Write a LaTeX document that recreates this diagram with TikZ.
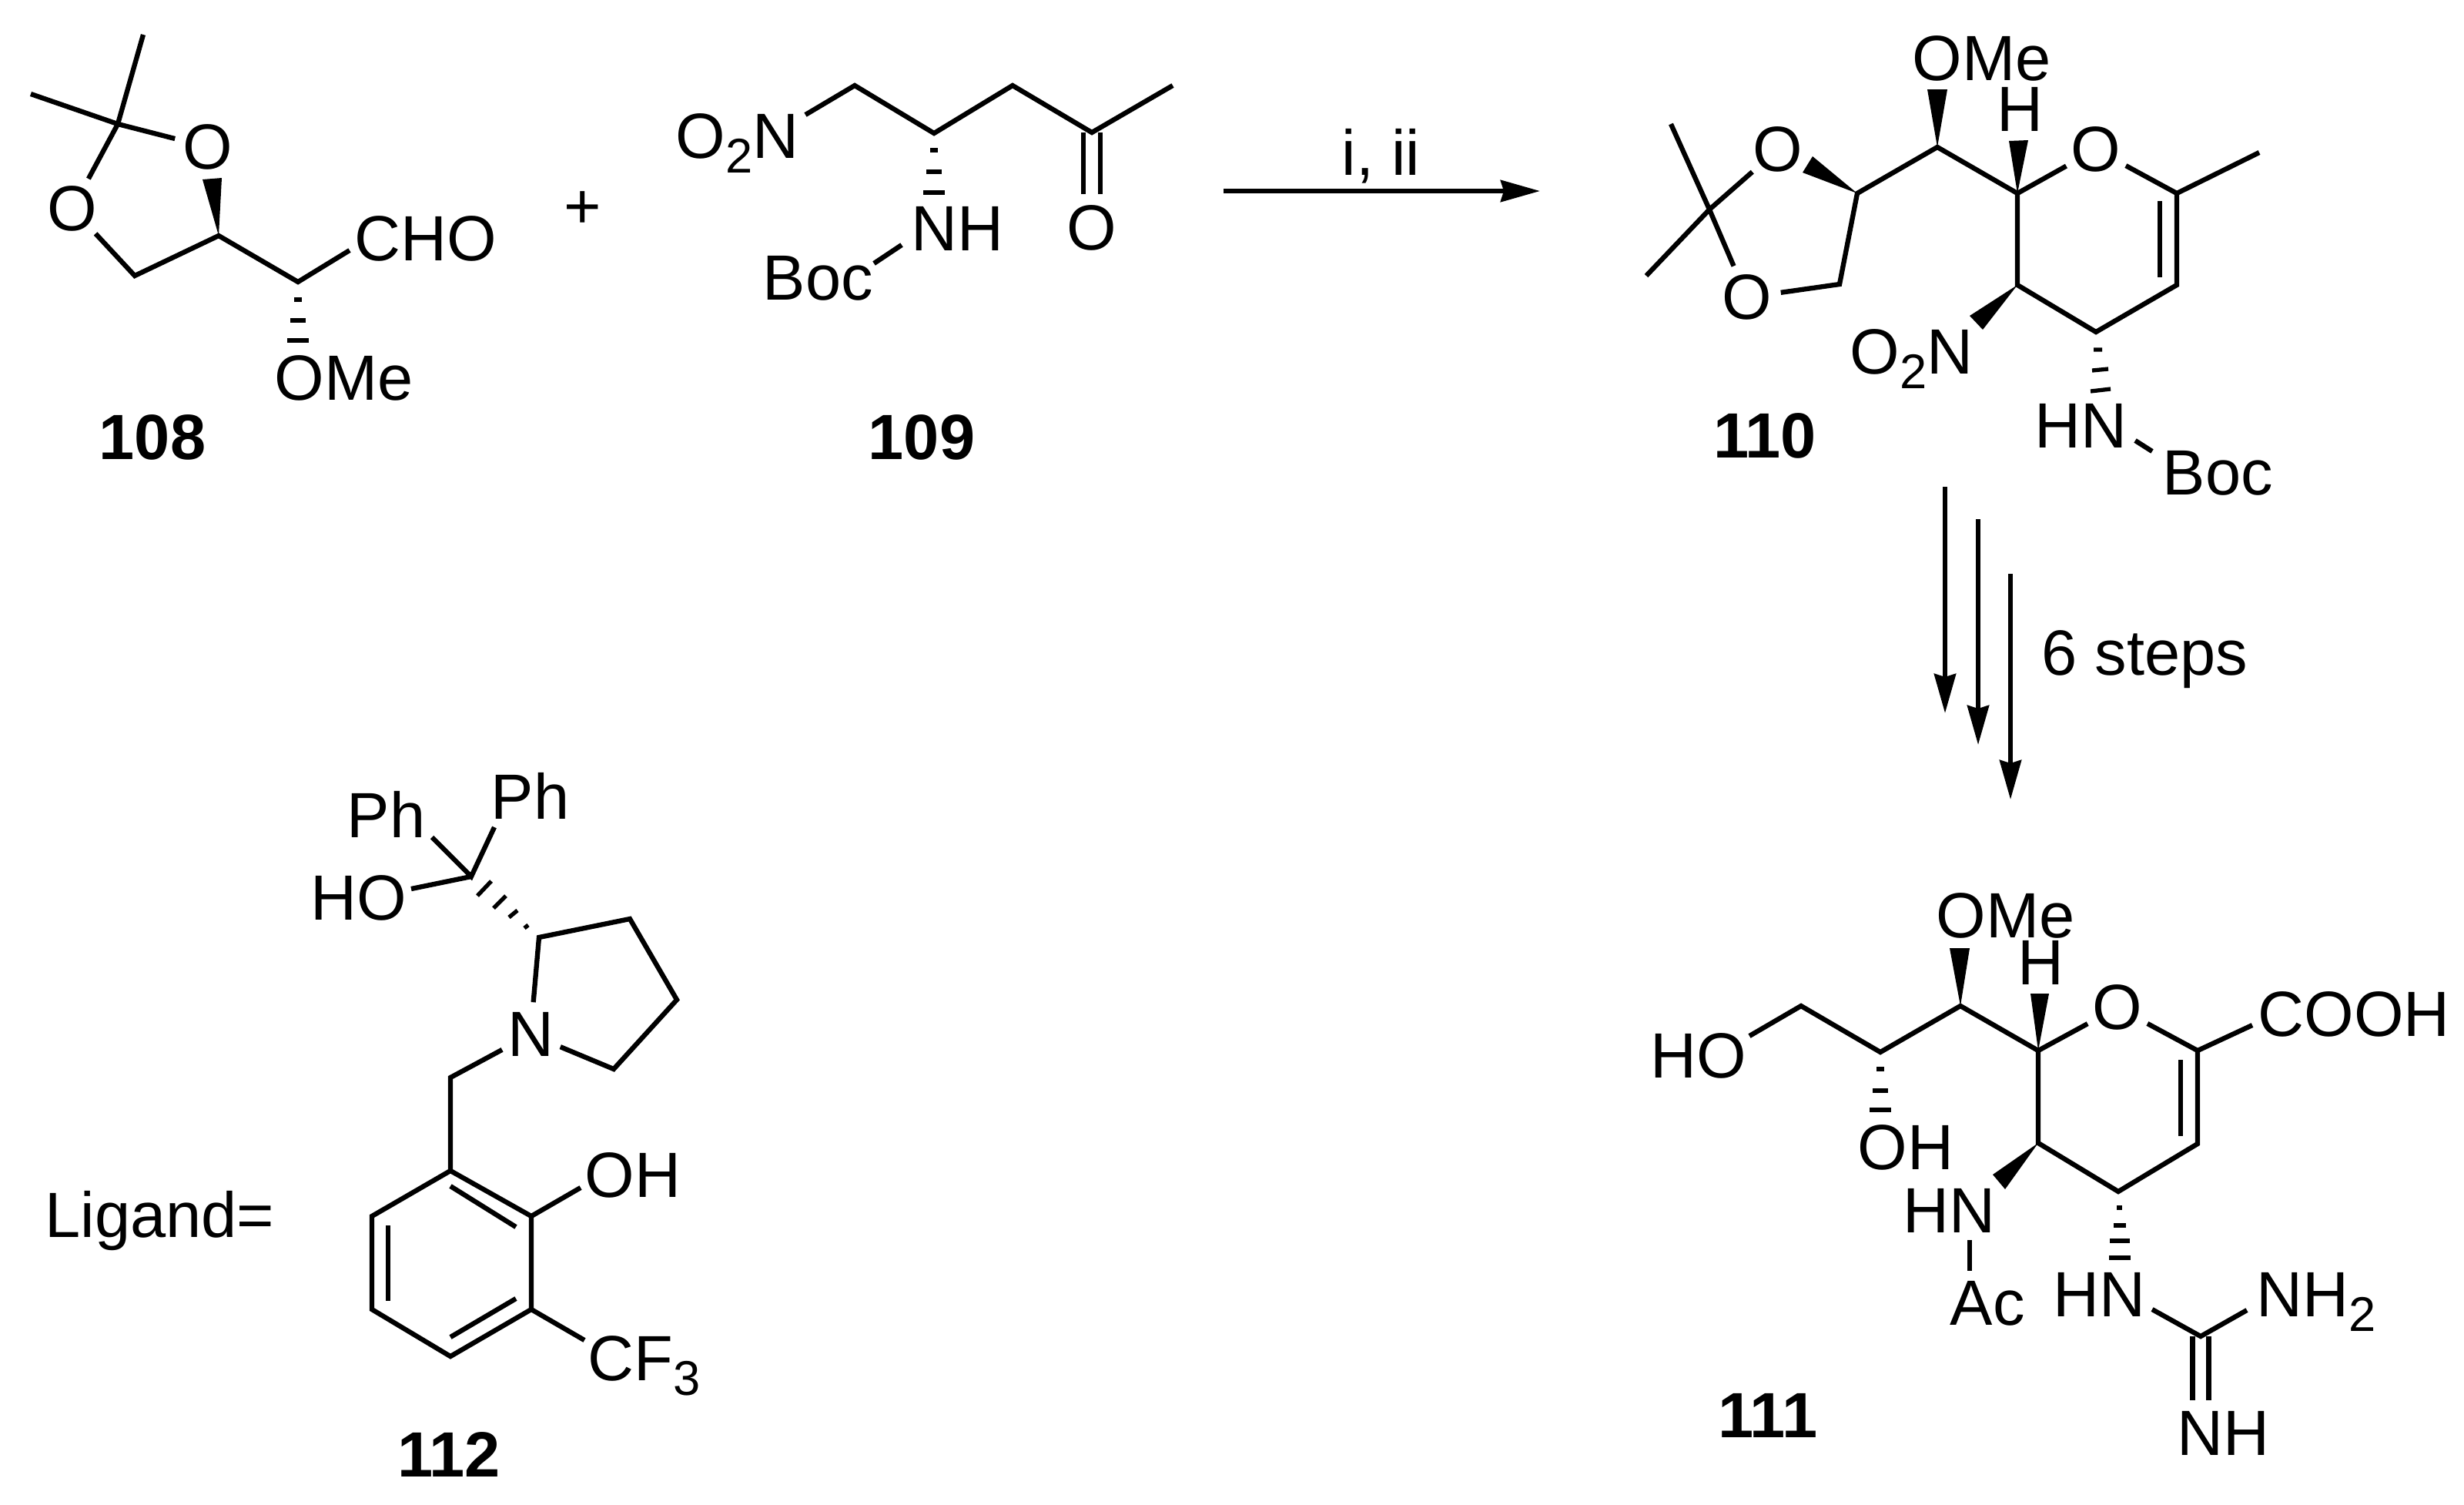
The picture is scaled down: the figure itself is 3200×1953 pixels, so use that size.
\documentclass[tikz,border=0pt]{standalone}
\usepackage{fontspec}
\setmainfont{Liberation Sans}
\usepackage{tikz}
\usetikzlibrary{arrows.meta, positioning}

\newcommand{\sbs}[1]{\raisebox{-5.4pt}{\fontsize{18}{18}\selectfont #1}}

\tikzset{
  every node/.style={inner sep=0pt, font=\fontsize{23.6}{28}\selectfont},
  bond/.style={line width=1.8pt},
  hashbond/.style={line width=1.5pt},
  wedgebond/.style={fill=black},
  lbl/.style={anchor=base west},
  atomlbl/.style={circle, anchor=center},
  numlbl/.style={anchor=base, font=\fontsize{23.6}{28}\selectfont\bfseries},
  rxn/.style={line width=1.7pt, -{Stealth[length=0.51cm, width=0.28cm, inset=0.04cm]}}
}

\begin{document}
\begin{tikzpicture}[x=0.01cm, y=-0.01cm]
  \useasboundingbox (0,0) rectangle (3200,1953);

  % Aldehyde 108
  \node[atomlbl] (aO1) at (270,191) {O};
  \node[atomlbl] (aO2) at (94,271) {O};
  \node[lbl] (aCHO) at (460,338) {CHO};
  \node[lbl] (aOMe) at (356,519) {OMe};
  \node[numlbl] (aNum) at (198,596) {108};
  \coordinate (aMe1) at (186,45);
  \coordinate (aMe2) at (40,122);
  \coordinate (aQ) at (153,161);
  \coordinate (aC1) at (175,358);
  \coordinate (aC2) at (284,306);
  \coordinate (aC3) at (387,366);
  \coordinate (aEnd) at (454,325);
  \draw[bond] (aMe1) -- (aQ) -- (aO1);
  \draw[bond] (aMe2) -- (aQ) -- (aO2);
  \draw[bond] (aO2) -- (aC1) -- (aC2) -- (aC3) -- (aEnd);
  \fill[wedgebond] (aC2) -- (263,233) -- (288,231) -- cycle;
  \draw[hashbond] (382,389) -- (392,389) (377,416) -- (397,416) (373,442) -- (401,442);

  % Plus sign
  \node[anchor=center] (plus) at (757,273) {+};

  % Nitro ketone 109
  \node[lbl] (bNO2) at (877,205) {O\sbs{2}N};
  \node[lbl] (bNH) at (1183,325) {NH};
  \node[lbl] (bBoc) at (990,389) {Boc};
  \node[atomlbl] (bO) at (1418,296) {O};
  \node[numlbl] (bNum) at (1197,596) {109};
  \coordinate (bEnd) at (1046,149);
  \coordinate (bC1) at (1110,111);
  \coordinate (bC2) at (1213,173);
  \coordinate (bC3) at (1315,111);
  \coordinate (bC4) at (1418,172);
  \coordinate (bMe) at (1523,111);
  \coordinate (bN1) at (1171,318);
  \coordinate (bN2) at (1135,342);
  \draw[bond] (bEnd) -- (bC1) -- (bC2) -- (bC3) -- (bC4) -- (bMe);
  \draw[bond] ([xshift=-0.11cm]bC4) -- ([xshift=-0.11cm]bO.north);
  \draw[bond] ([xshift=0.11cm]bC4) -- ([xshift=0.11cm]bO.north);
  \draw[bond] (bN1) -- (bN2);
  \draw[hashbond] (1208,195) -- (1218,195) (1203,223) -- (1223,223) (1199,250) -- (1227,250);

  % First reaction arrow
  \coordinate (rxA) at (1589,248);
  \coordinate (rxB) at (2000,248);
  \draw[rxn] (rxA) -- (rxB);
  \node[lbl] (rxLbl) at (1742,227) {i, ii};

  % Dihydropyran 110
  \node[atomlbl] (cO1) at (2309,194) {O};
  \node[atomlbl] (cO2) at (2269,386) {O};
  \node[atomlbl] (cO3) at (2722,194) {O};
  \node[lbl] (cOMe) at (2483,104) {OMe};
  \node[lbl] (cH) at (2593,170) {H};
  \node[lbl] (cNO2) at (2402,485) {O\sbs{2}N};
  \node[lbl] (cHN) at (2642,581) {HN};
  \node[lbl] (cBoc) at (2808,642) {Boc};
  \node[numlbl] (cNum) at (2292,594) {110};
  \coordinate (cMe1) at (2170,161);
  \coordinate (cMe2) at (2138,358);
  \coordinate (cQ) at (2220,272);
  \coordinate (cC1) at (2389,369);
  \coordinate (cC2) at (2412,251);
  \coordinate (cC3) at (2516,191);
  \coordinate (cC4) at (2620,251);
  \coordinate (cC5) at (2620,370);
  \coordinate (cC6) at (2722,431);
  \coordinate (cC7) at (2827,370);
  \coordinate (cC8) at (2827,251);
  \coordinate (cMe3) at (2934,198);
  \coordinate (cIn1) at (2805,261);
  \coordinate (cIn2) at (2805,360);
  \coordinate (cN1) at (2773,572);
  \coordinate (cN2) at (2795,586);
  \draw[bond] (cMe1) -- (cQ) -- (cO2);
  \draw[bond] (cMe2) -- (cQ) -- (cO1);
  \draw[bond] (cO2) -- (cC1) -- (cC2) -- (cC3) -- (cC4) -- (cO3);
  \draw[bond] (cC4) -- (cC5) -- (cC6) -- (cC7) -- (cC8) -- (cO3);
  \draw[bond] (cC8) -- (cMe3);
  \draw[bond] (cIn1) -- (cIn2);
  \draw[bond] (cN1) -- (cN2);
  \fill[wedgebond] (cC2) -- (2341,224) -- (2354,203) -- cycle;
  \fill[wedgebond] (cC3) -- (2503,116) -- (2529,116) -- cycle;
  \fill[wedgebond] (cC4) -- (2609,183) -- (2634,182) -- cycle;
  \fill[wedgebond] (cC5) -- (2558,410) -- (2575,428) -- cycle;
  \draw[hashbond] (2719,454) -- (2730,454) (2717,481) -- (2738,479) (2715,508) -- (2741,505);

  % Six steps arrows
  \coordinate (sxA1) at (2526,632);
  \coordinate (sxB1) at (2526,926);
  \coordinate (sxA2) at (2569,674);
  \coordinate (sxB2) at (2569,967);
  \coordinate (sxA3) at (2611,745);
  \coordinate (sxB3) at (2611,1038);
  \draw[rxn] (sxA1) -- (sxB1);
  \draw[rxn] (sxA2) -- (sxB2);
  \draw[rxn] (sxA3) -- (sxB3);
  \node[lbl] (sxLbl) at (2651,876) {6 steps};

  % Final product 111
  \node[lbl] (dHO) at (2143,1399) {HO};
  \node[lbl] (dOMe) at (2514,1217) {OMe};
  \node[lbl] (dH) at (2620,1278) {H};
  \node[atomlbl] (dO) at (2750,1308) {O};
  \node[lbl] (dCOOH) at (2932,1345) {COOH};
  \node[lbl] (dOH) at (2412,1518) {OH};
  \node[lbl] (dHN1) at (2471,1600) {HN};
  \node[lbl] (dAc) at (2532,1720) {Ac};
  \node[lbl] (dHN2) at (2666,1709) {HN};
  \node[lbl] (dNH2) at (2930,1709) {NH\sbs{2}};
  \node[lbl] (dNH) at (2827,1889) {NH};
  \node[numlbl] (dNum) at (2296,1866) {111};
  \coordinate (dE1) at (2272,1345);
  \coordinate (dC1) at (2339,1306);
  \coordinate (dC2) at (2442,1366);
  \coordinate (dC3) at (2546,1306);
  \coordinate (dC4) at (2647,1364);
  \coordinate (dC5) at (2647,1484);
  \coordinate (dC6) at (2751,1547);
  \coordinate (dC7) at (2854,1485);
  \coordinate (dC8) at (2854,1364);
  \coordinate (dE2) at (2925,1331);
  \coordinate (dIn1) at (2832,1376);
  \coordinate (dIn2) at (2832,1475);
  \coordinate (dAc1) at (2558,1610);
  \coordinate (dAc2) at (2558,1650);
  \coordinate (dG1) at (2795,1700);
  \coordinate (dG2) at (2858,1735);
  \coordinate (dG3) at (2918,1701);
  \coordinate (dG4) at (2858,1818);
  \draw[bond] (dE1) -- (dC1) -- (dC2) -- (dC3) -- (dC4) -- (dO);
  \draw[bond] (dC4) -- (dC5) -- (dC6) -- (dC7) -- (dC8) -- (dO);
  \draw[bond] (dC8) -- (dE2);
  \draw[bond] (dIn1) -- (dIn2);
  \draw[bond] (dAc1) -- (dAc2);
  \draw[bond] (dG1) -- (dG2) -- (dG3);
  \draw[bond] ([xshift=-0.105cm]dG2) -- ([xshift=-0.105cm]dG4);
  \draw[bond] ([xshift=0.105cm]dG2) -- ([xshift=0.105cm]dG4);
  \fill[wedgebond] (dC3) -- (2532,1231) -- (2558,1231) -- cycle;
  \fill[wedgebond] (dC4) -- (2637,1290) -- (2661,1290) -- cycle;
  \fill[wedgebond] (dC5) -- (2588,1525) -- (2604,1544) -- cycle;
  \draw[hashbond] (2437,1388) -- (2447,1388) (2432,1416) -- (2452,1416) (2428,1441) -- (2456,1441);
  \draw[hashbond] (2749,1568) -- (2756,1568) (2745,1591) -- (2761,1591) (2740,1611) -- (2766,1611) (2739,1633) -- (2767,1633);

  % Ligand 112
  \node[lbl] (eLig) at (58,1606) {Ligand=};
  \node[lbl] (ePh1) at (450,1087) {Ph};
  \node[lbl] (ePh2) at (637,1063) {Ph};
  \node[lbl] (eHO) at (403,1194) {HO};
  \node[atomlbl] (eN) at (689,1343) {N};
  \node[lbl] (eOH) at (759,1554) {OH};
  \node[lbl] (eCF3) at (763,1792) {CF\sbs{3}};
  \node[numlbl] (eNum) at (583,1917) {112};
  \coordinate (eC) at (612,1138);
  \coordinate (eE1) at (561,1087);
  \coordinate (eE2) at (642,1074);
  \coordinate (eE3) at (534,1154);
  \coordinate (eR1) at (700,1217);
  \coordinate (eR2) at (818,1193);
  \coordinate (eR3) at (879,1298);
  \coordinate (eR4) at (797,1388);
  \coordinate (eCH) at (585,1399);
  \coordinate (eA1) at (585,1520);
  \coordinate (eA2) at (690,1579);
  \coordinate (eA3) at (690,1700);
  \coordinate (eA4) at (585,1761);
  \coordinate (eA5) at (483,1700);
  \coordinate (eA6) at (483,1579);
  \coordinate (eE4) at (754,1542);
  \coordinate (eE5) at (759,1740);
  \draw[bond] (eE1) -- (eC) -- (eE2);
  \draw[bond] (eC) -- (eE3);
  \draw[bond] (eN) -- (eR1) -- (eR2) -- (eR3) -- (eR4) -- (eN);
  \draw[bond] (eN) -- (eCH) -- (eA1);
  \draw[bond] (eA1) -- (eA2) -- (eA3) -- (eA4) -- (eA5) -- (eA6) -- cycle;
  \draw[bond] (eA2) -- (eE4);
  \draw[bond] (eA3) -- (eE5);
  \draw[bond] (585,1540) -- (670,1593);
  \draw[bond] (670,1686) -- (585,1736);
  \draw[bond] (504,1591) -- (504,1689);
  \draw[hashbond] (620,1163) -- (638,1144) (641,1179) -- (657,1163) (661,1191) -- (672,1182) (681,1205) -- (686,1201);
\end{tikzpicture}
\end{document}
